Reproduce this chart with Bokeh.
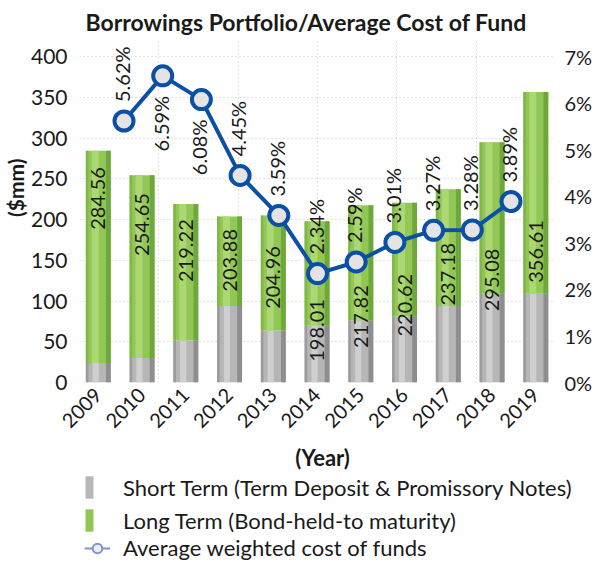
import math
from bokeh.plotting import figure
from bokeh.layouts import column
from bokeh.models import (Range1d, LinearAxis, FixedTicker, Grid, Legend, LegendItem,
                          ColumnDataSource, CustomJSTickFormatter, Title, Label)
from bokeh.transform import dodge
from bokeh.core.properties import value
from bokeh.embed import file_html
from bokeh.resources import INLINE

# ---------------- data ----------------
years = [2009, 2010, 2011, 2012, 2013, 2014, 2015, 2016, 2017, 2018, 2019]
short_term = [24, 30, 52, 94, 64, 70, 76, 81, 94, 109, 109]
totals = [284.56, 254.65, 219.22, 203.88, 204.96, 198.01, 217.82, 220.62, 237.18, 295.08, 356.61]
total_label_at = [226, 194, 162, 150, 129, 64, 81, 95, 133, 126, 161]
cost_pct = [5.62, 6.59, 6.08, 4.45, 3.59, 2.34, 2.59, 3.01, 3.27, 3.28, 3.89]
pct_label_above = [True, False, False, True, True, True, True, True, True, True, True]
left_ticks = [0, 50, 100, 150, 200, 250, 300, 350, 400]
right_ticks = [0, 1, 2, 3, 4, 5, 6, 7]

FONT = "Lato"
TXT = "#1a1a1a"
BLUE = "#0b4fa6"
PH, QH = 442, 121

src = ColumnDataSource(dict(
    year=years, short=short_term, total=totals,
    label=[f"{t:.2f}" for t in totals], label_y=total_label_at,
))

p = figure(width=595, height=PH, output_backend="svg", toolbar_location=None,
           x_range=Range1d(2008.57, 2019.45), y_range=Range1d(0, 420),
           min_border_left=77, min_border_right=38, min_border_top=30,
           min_border_bottom=60)
p.extra_y_ranges = {"pct": Range1d(0, 7.35)}
p.extra_x_ranges = {"line": Range1d(2007.85, 2020.15), "grid": Range1d(0, 6)}
p.outline_line_color = None
p.background_fill_color = "white"

# title
p.title.text = "Borrowings Portfolio/Average Cost of Fund"
p.title.text_font = FONT
p.title.text_font_size = "23px"
p.title.text_font_style = "bold"
p.title.text_color = TXT
p.title.align = "left"
p.title.offset = 6
p.title.standoff = 10

# grids
p.xgrid.visible = False
p.ygrid.ticker = FixedTicker(ticks=left_ticks)
p.ygrid.grid_line_color = "#c4c4c4"
p.ygrid.grid_line_dash = "1 3"
p.ygrid.grid_line_width = 1
vgrid = Grid(dimension=0, x_range_name="grid", ticker=FixedTicker(ticks=[0, 1, 2, 3, 4, 5, 6]),
             grid_line_color="#c4c4c4", grid_line_dash="1 3", grid_line_width=1)
p.add_layout(vgrid)

# axes
p.yaxis.ticker = FixedTicker(ticks=left_ticks)
for ax in [p.yaxis[0], p.xaxis[0]]:
    ax.axis_line_color = None
    ax.major_tick_line_color = None
    ax.minor_tick_line_color = None
    ax.major_tick_out = 0
    ax.major_tick_in = 0
    ax.minor_tick_out = 0
    ax.major_label_text_font = FONT
    ax.major_label_text_color = TXT
p.yaxis.major_label_text_font_size = "21px"
p.xaxis.major_label_text_font_size = "20px"
p.yaxis.major_label_standoff = 12

p.xaxis.ticker = FixedTicker(ticks=years)
p.xaxis.major_label_orientation = math.pi / 4
p.xaxis.major_label_standoff = 9

ytitle = Title(text="($mm)", align="right", offset=118, standoff=0, text_font=FONT,
               text_font_size="21px", text_font_style="bold", text_color=TXT)
p.add_layout(ytitle, "left")

raxis = LinearAxis(y_range_name="pct", ticker=FixedTicker(ticks=right_ticks),
                   formatter=CustomJSTickFormatter(code="return tick + '%';"),
                   axis_line_color=None, major_tick_line_color=None,
                   minor_tick_line_color=None, major_tick_out=0, major_tick_in=0,
                   minor_tick_out=0, major_label_text_font=FONT,
                   major_label_text_font_size="20px", major_label_text_color=TXT,
                   major_label_standoff=9)
p.add_layout(raxis, "right")

# ---------------- bars ----------------
W = 0.57
# short term (grey)
p.vbar(x="year", bottom=0, top="short", width=W, source=src, fill_color="#b6b6b6", line_color=None)
p.vbar(x=dodge("year", -0.06, range=p.x_range), bottom=0, top="short", width=0.14, source=src,
       fill_color="#cfcfcf", line_color=None)
p.vbar(x=dodge("year", 0.23, range=p.x_range), bottom=0, top="short", width=0.11, source=src,
       fill_color="#8e8e8e", line_color=None)
p.vbar(x=dodge("year", -0.255, range=p.x_range), bottom=0, top="short", width=0.06, source=src,
       fill_color="#9c9c9c", line_color=None)
# long term (green)
p.vbar(x="year", bottom="short", top="total", width=W, source=src, fill_color="#92c756", line_color=None)
p.vbar(x=dodge("year", -0.07, range=p.x_range), bottom="short", top="total", width=0.16, source=src,
       fill_color="#abd873", line_color=None)
p.vbar(x=dodge("year", 0.23, range=p.x_range), bottom="short", top="total", width=0.11, source=src,
       fill_color="#6ea83a", line_color=None)
p.vbar(x=dodge("year", -0.255, range=p.x_range), bottom="short", top="total", width=0.06, source=src,
       fill_color="#7fb847", line_color=None)

# total labels
p.text(x="year", y="label_y", text="label", source=src, angle=math.pi / 2,
       text_align="center", text_baseline="middle", text_font=value(FONT),
       text_font_size="20px", text_color=TXT)

# ---------------- line ----------------
p.line(x=years, y=cost_pct, x_range_name="line", y_range_name="pct",
       line_color=BLUE, line_width=4)
p.scatter(x=years, y=cost_pct, x_range_name="line", y_range_name="pct", size=19,
          fill_color="#e4e4e4", line_color=BLUE, line_width=4)

above = [i for i, a in enumerate(pct_label_above) if a]
below = [i for i, a in enumerate(pct_label_above) if not a]
for idx, align, off in [(above, "left", -19), (below, "right", 20)]:
    p.text(x=[years[i] for i in idx], y=[cost_pct[i] for i in idx],
           text=[f"{cost_pct[i]:.2f}%" for i in idx],
           x_range_name="line", y_range_name="pct", angle=math.pi / 2,
           text_align=align, text_baseline="middle", y_offset=off, x_offset=-2,
           text_font=value(FONT), text_font_size="20px", text_color=TXT)

# ---------------- x-axis title + legend figure ----------------
q = figure(width=595, height=QH, output_backend="svg", toolbar_location=None,
           x_axis_type=None, y_axis_type=None,
           x_range=Range1d(0, 595), y_range=Range1d(0, QH),
           min_border_left=0, min_border_right=0, min_border_top=0, min_border_bottom=0)
q.grid.visible = False
q.outline_line_color = None
for fig in (p, q):
    try:
        fig.frame_align = False
    except Exception:
        pass

q.add_layout(Label(x=322, y=QH - 1, text="(Year)", text_align="center", text_baseline="top",
                   text_font=FONT, text_font_size="22px", text_font_style="bold",
                   text_color=TXT))

# legend sample renderers (their data lies outside this figure's ranges, only the legend shows)
lg_short = q.vbar(x=years, top=short_term, width=0.5, fill_color="#b8b8b8", line_color=None)
lg_long = q.vbar(x=years, top=totals, width=0.5, fill_color="#92c756", line_color=None)
lg_line = q.line(x=years, y=cost_pct, line_color="#7f92d2", line_width=2)
lg_pt = q.scatter(x=years, y=cost_pct, size=11, fill_color="#eeeeee", line_color="#7f92d2",
                  line_width=2)

leg1 = Legend(items=[LegendItem(label="Short Term (Term Deposit & Promissory Notes)", renderers=[lg_short]),
                     LegendItem(label="Long Term (Bond-held-to maturity)", renderers=[lg_long])],
              location=(84, 29), orientation="vertical", glyph_width=10, glyph_height=28,
              label_standoff=29, spacing=5, padding=0, margin=0, border_line_color=None,
              label_text_font=FONT, label_text_font_size="22px", label_text_color=TXT,
              background_fill_alpha=0)
leg2 = Legend(items=[LegendItem(label="Average weighted cost of funds", renderers=[lg_line, lg_pt])],
              location=(84, 2), orientation="vertical", glyph_width=26, glyph_height=24,
              label_standoff=13, spacing=0, padding=0, margin=0, border_line_color=None,
              label_text_font=FONT, label_text_font_size="22px", label_text_color=TXT,
              background_fill_alpha=0)
q.add_layout(leg1)
q.add_layout(leg2)

layout = column(p, q, spacing=0)
open("out.html", "w").write(file_html(layout, INLINE))
